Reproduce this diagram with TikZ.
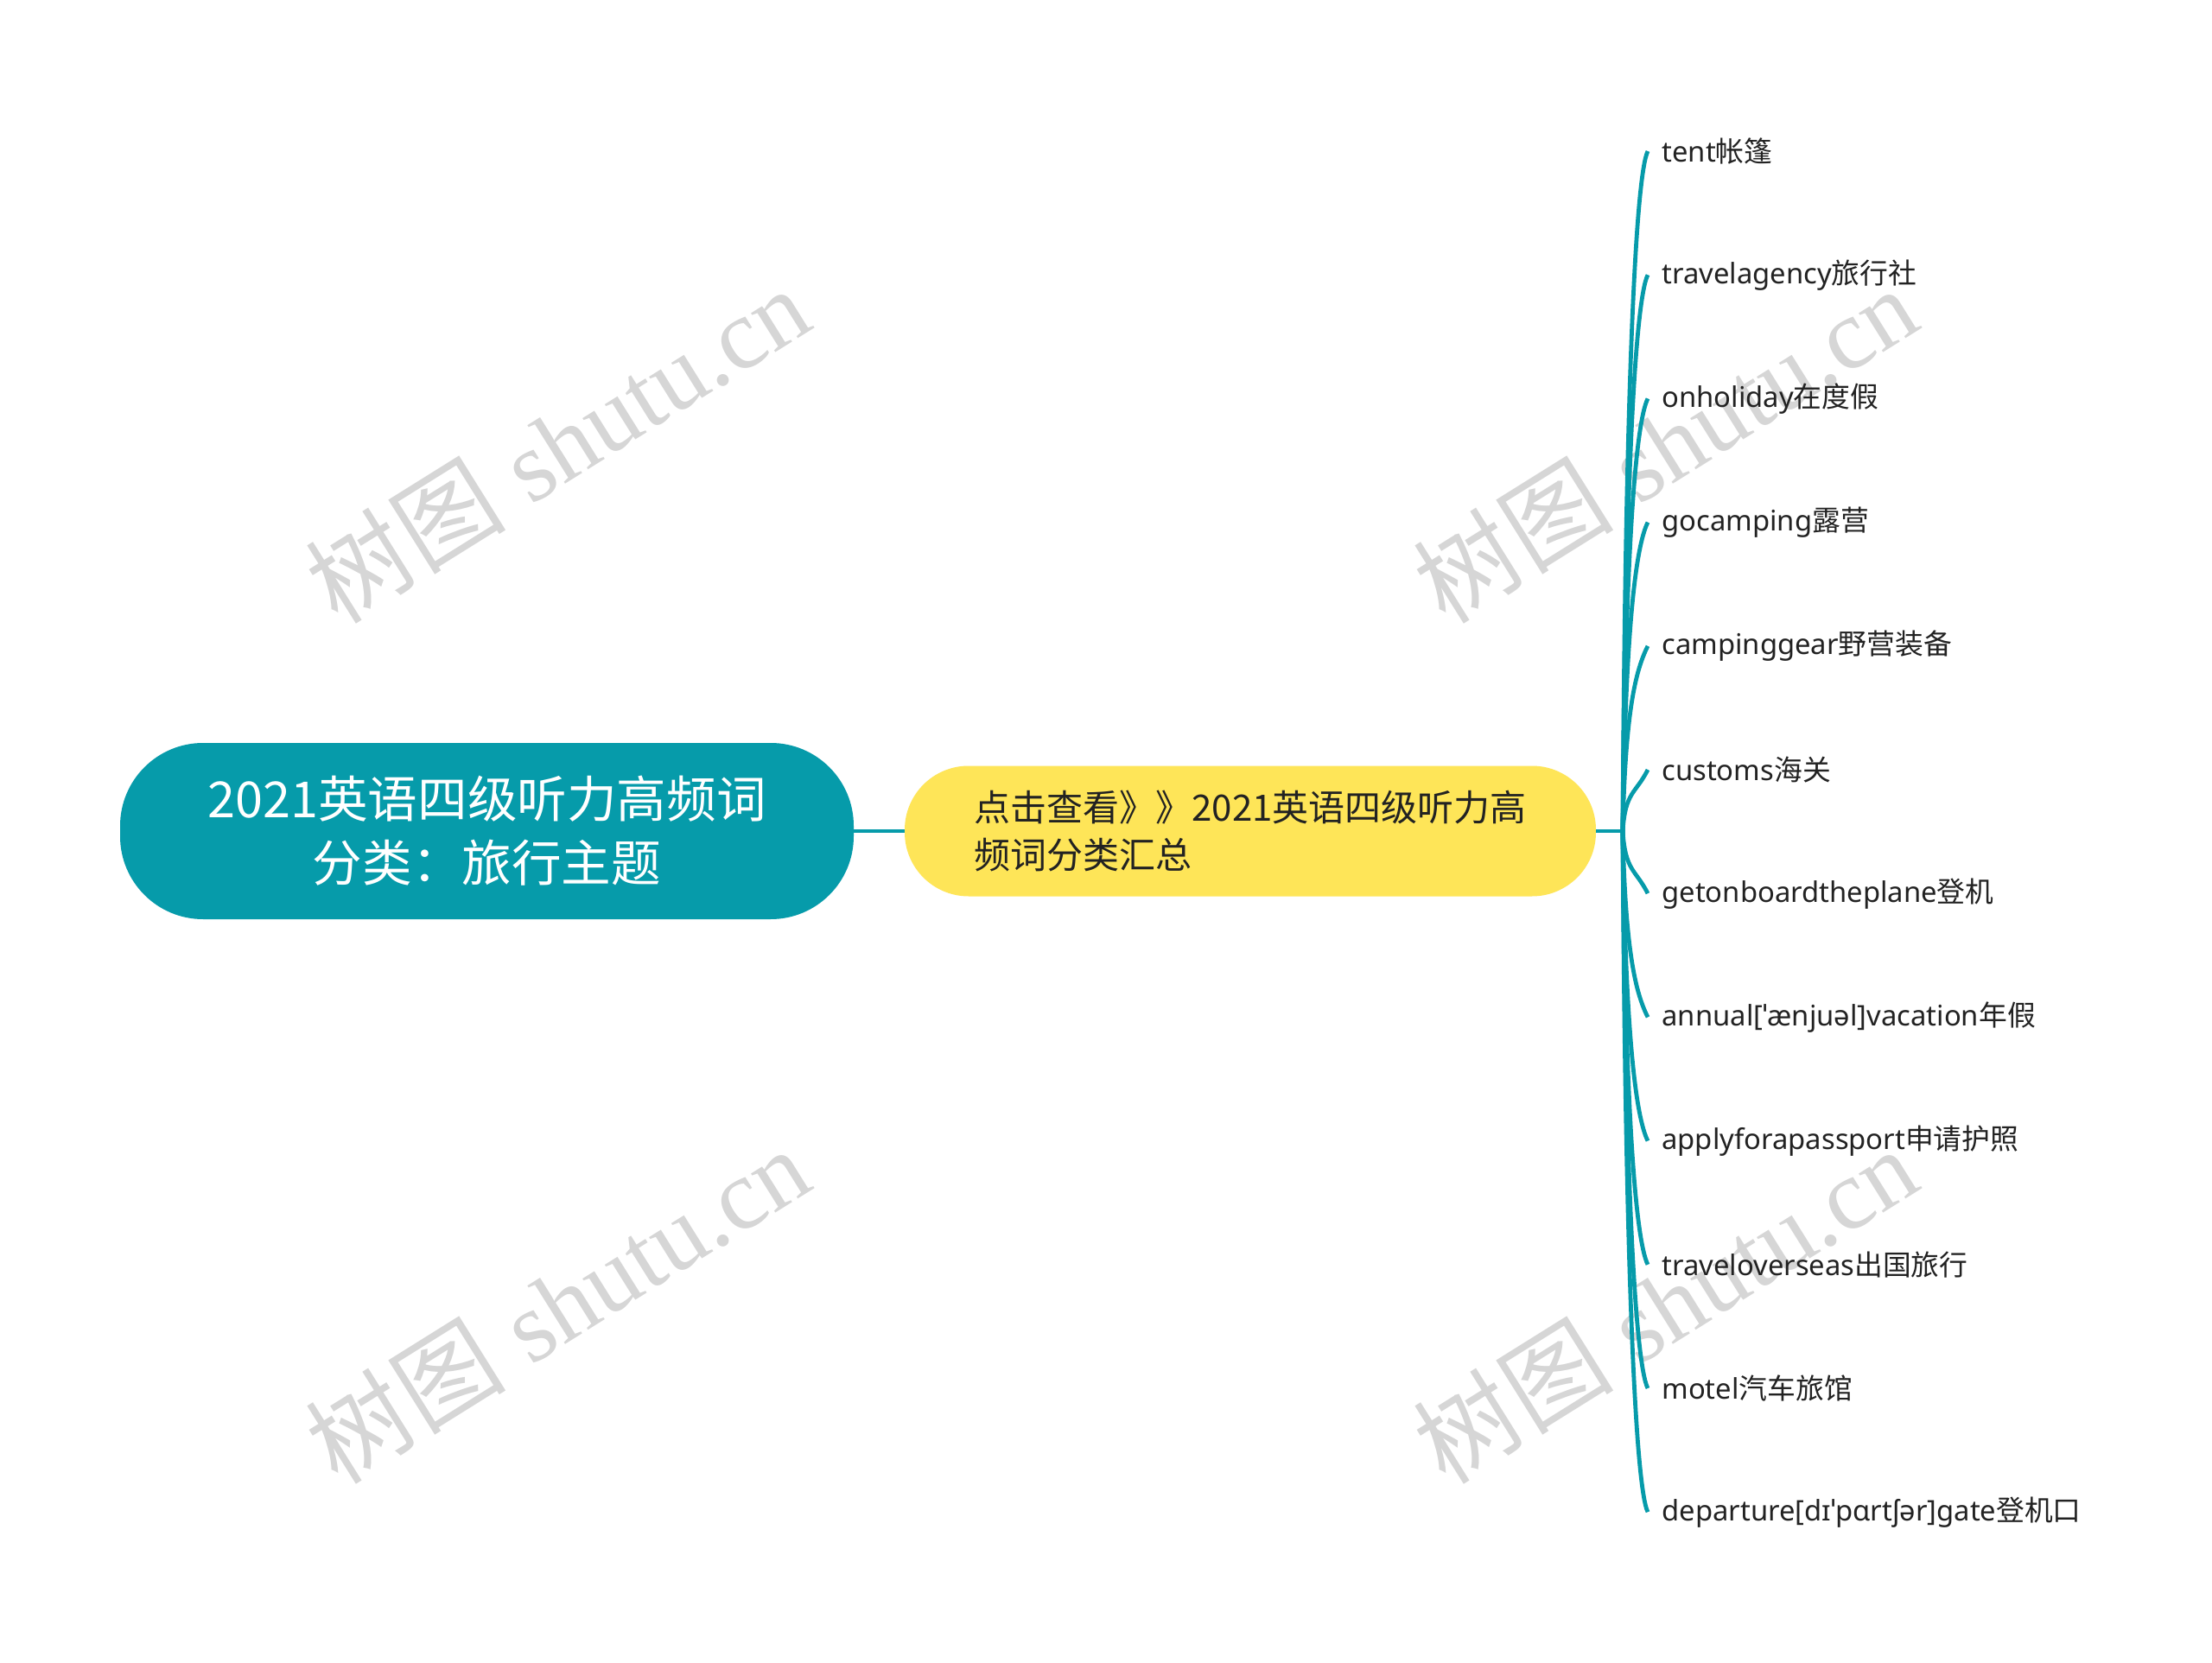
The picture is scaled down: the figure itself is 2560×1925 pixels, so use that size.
\documentclass[tikz,border=0pt]{standalone}
\usepackage{fontspec}
\setmainfont{Noto Sans}
\newfontfamily\cjk{Noto Sans CJK SC}
\newfontfamily\wmlatin{Liberation Serif}
\definecolor{teal1}{RGB}{6,155,170}
\definecolor{yell1}{RGB}{254,229,88}
\definecolor{txt1}{RGB}{34,34,34}
\definecolor{wmark}{RGB}{214,214,214}
\tikzset{
  rootbox/.style={fill=teal1, text=white, rounded corners=48pt, minimum width=424.5pt, minimum height=102pt, inner sep=0pt, align=center, font=\cjk\fontsize{28.8}{37}\selectfont},
  midbox/.style={fill=yell1, text=txt1, rounded corners=37pt, minimum width=400pt, minimum height=75.5pt, inner sep=0pt, align=left, font=\cjk\fontsize{21}{27.8}\selectfont},
  leaf/.style={anchor=west, inner xsep=8pt, inner ysep=2pt, text=txt1, font=\fontsize{16.4}{20}\selectfont},
  conn/.style={draw=teal1, line width=2.4pt},
  wm/.style={text=wmark, rotate=32, font=\fontsize{58}{60}\selectfont}
}
\begin{document}
\begin{tikzpicture}[x=0.5pt,y=-0.5pt]
\fill[white] (0,0) rectangle (2560,1925);
\useasboundingbox (0,0) rectangle (2560,1925);
% watermarks
\foreach \wx/\wy in {645/514,1927/514,645/1510,1927/1510}{
  \node[wm] at (\wx,\wy) {{\cjk 树图} \wmlatin shutu.cn};
}
\node[rootbox] (root) at (563.5,962) {2021英语四级听力高频词\\分类：旅行主题};
\node[midbox] (mid) at (1447,962) {点击查看》》2021英语四级听力高\\频词分类汇总};
\coordinate (hub) at (1878,962);
\draw[conn] (root.east) -- (mid.west);
\draw[conn] (mid.east) -- (hub);
\foreach \i/\t in {
 1/{tent{\cjk 帐篷}},
 2/{travelagency{\cjk 旅行社}},
 3/{onholiday{\cjk 在度假}},
 4/{gocamping{\cjk 露营}},
 5/{campinggear{\cjk 野营装备}},
 6/{customs{\cjk 海关}},
 7/{getonboardtheplane{\cjk 登机}},
 8/{annual[ˈænjuəl]vacation{\cjk 年假}},
 9/{applyforapassport{\cjk 申请护照}},
 10/{traveloverseas{\cjk 出国旅行}},
 11/{motel{\cjk 汽车旅馆}},
 12/{departure[dɪˈpɑrtʃər]gate{\cjk 登机口}}}{
  \pgfmathsetmacro\yy{175+143.2*(\i-1)}
  \node[leaf] (l\i) at (1907,\yy) {\t};
  \pgfmathsetmacro\dd{962-\yy}
  \pgfmathsetmacro\ss{(\dd>0)?1:-1}
  \pgfmathsetmacro\cc{\yy+0.35*\dd}
  \pgfmathsetmacro\ee{\yy+\ss*min(28,0.4*abs(\dd))}
  \draw[conn] (hub) .. controls (1881,\cc) and (1893,\ee) .. (l\i.west);
}
\end{tikzpicture}
\end{document}
